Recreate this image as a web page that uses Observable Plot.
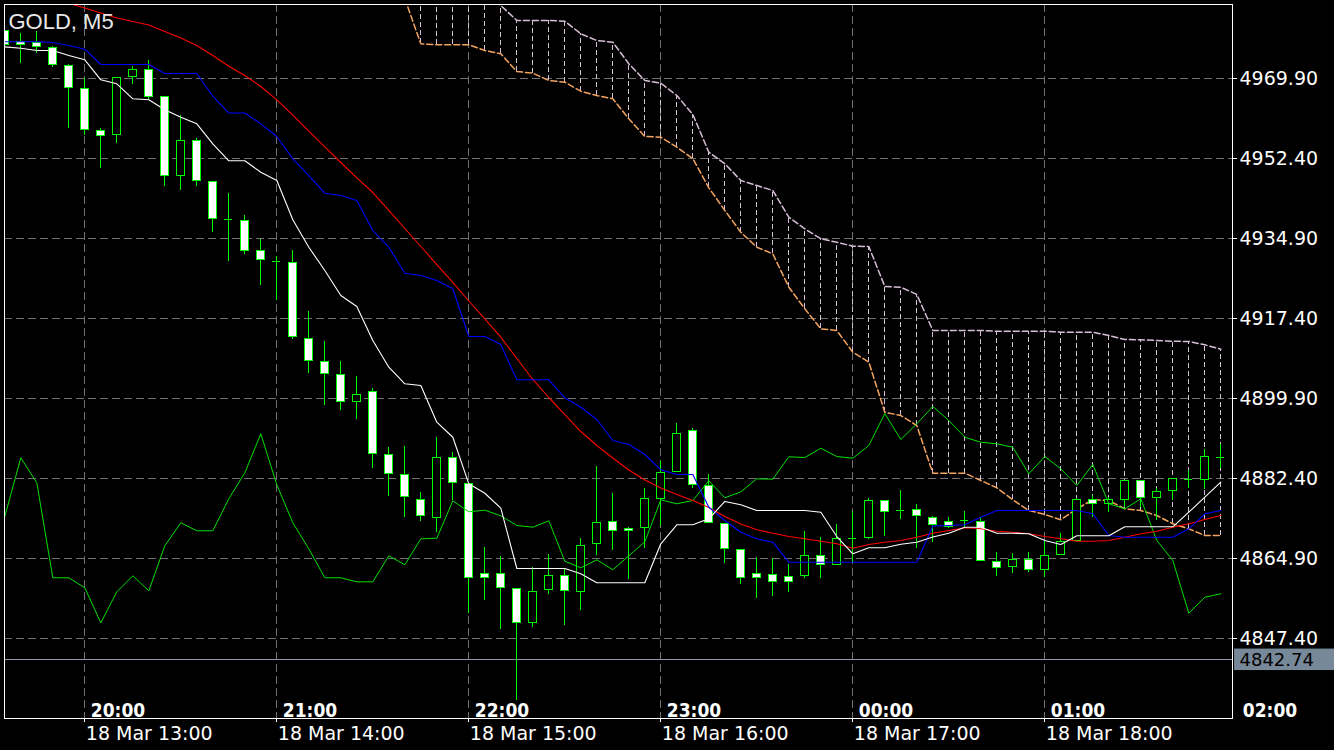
<!DOCTYPE html>
<html>
<head>
<meta charset="utf-8">
<script src="https://cdn.jsdelivr.net/npm/d3@7"></script>
<script src="https://cdn.jsdelivr.net/npm/@observablehq/plot@0.6"></script>
<style>
html, body { margin: 0; padding: 0; background: #000; overflow: hidden; }
</style>
</head>
<body>
<div id="chart"></div>
<script>
// ---------- chart data ----------
const symbolTitle = "GOLD, M5";

const open = [
  4980.40, 4977.78, 4977.71, 4976.62, 4972.68, 4967.65, 4958.46, 4957.58, 4970.27, 4971.80,
  4965.81, 4948.62, 4956.27, 4947.30, 4938.99, 4938.77, 4932.06, 4929.93, 4929.58, 4912.96,
  4907.84, 4905.08, 4899.18, 4901.28, 4887.50, 4883.12, 4877.65, 4873.80, 4886.93, 4881.24,
  4861.55, 4861.47, 4858.27, 4850.83, 4857.97, 4861.12, 4857.53, 4868.12, 4872.99, 4871.46,
  4871.62, 4877.87, 4883.78, 4892.83, 4880.80, 4872.49, 4866.80, 4861.55, 4861.33, 4860.90,
  4861.03, 4865.49, 4863.52, 4869.34, 4869.34, 4877.52, 4875.47, 4875.55, 4873.80, 4872.84,
  4873.15, 4872.93, 4864.09, 4863.00, 4864.53, 4862.43, 4865.56, 4868.77, 4877.74, 4876.87,
  4877.74, 4881.90, 4878.18, 4879.71, 4882.25, 4882.12, 4886.99
];
const high = [
  4980.62, 4979.81, 4980.12, 4976.90, 4972.96, 4969.90, 4958.90, 4970.12, 4972.53, 4973.84,
  4965.95, 4961.81, 4956.84, 4947.30, 4944.68, 4939.93, 4934.62, 4930.96, 4932.28, 4918.93,
  4912.37, 4907.99, 4904.71, 4902.02, 4889.25, 4889.47, 4879.34, 4891.43, 4888.02, 4881.30,
  4867.31, 4865.34, 4858.30, 4863.00, 4865.78, 4862.65, 4869.34, 4885.03, 4879.18, 4871.75,
  4880.21, 4886.18, 4894.50, 4893.27, 4883.21, 4872.55, 4866.85, 4865.18, 4864.97, 4863.59,
  4870.81, 4869.43, 4872.34, 4875.25, 4877.96, 4877.55, 4879.78, 4876.71, 4874.15, 4873.93,
  4875.12, 4873.80, 4866.28, 4865.93, 4866.15, 4868.84, 4870.30, 4878.03, 4878.68, 4878.18,
  4882.00, 4881.95, 4880.28, 4882.33, 4884.15, 4888.68, 4889.84
];
const low = [
  4976.90, 4973.25, 4975.43, 4972.24, 4958.90, 4957.43, 4950.28, 4955.75, 4968.52, 4965.09,
  4946.34, 4945.40, 4946.34, 4936.28, 4929.93, 4931.40, 4924.62, 4921.34, 4912.74, 4905.30,
  4898.37, 4897.28, 4895.37, 4884.52, 4878.53, 4873.93, 4873.06, 4870.65, 4877.59, 4852.93,
  4855.71, 4849.37, 4833.84, 4849.74, 4857.03, 4850.24, 4853.53, 4865.56, 4866.65, 4860.24,
  4867.15, 4871.90, 4883.78, 4880.15, 4872.49, 4863.74, 4859.15, 4856.08, 4856.59, 4857.53,
  4860.46, 4860.59, 4863.52, 4863.74, 4868.99, 4869.71, 4873.37, 4867.02, 4868.47, 4871.46,
  4871.75, 4864.18, 4861.03, 4861.68, 4861.77, 4860.81, 4865.56, 4868.77, 4873.93, 4875.03,
  4876.12, 4876.12, 4873.21, 4877.59, 4880.15, 4879.93, 4884.52
];
const close = [
  4977.27, 4977.27, 4976.83, 4972.90, 4967.87, 4958.68, 4957.37, 4970.05, 4971.80, 4965.90,
  4948.68, 4956.27, 4947.52, 4939.21, 4938.99, 4932.12, 4930.24, 4929.93, 4913.40, 4908.15,
  4905.30, 4899.18, 4900.71, 4887.80, 4883.43, 4878.46, 4874.09, 4886.93, 4881.46, 4860.68,
  4860.68, 4858.49, 4850.83, 4857.62, 4861.12, 4857.83, 4867.68, 4872.71, 4870.96, 4870.96,
  4877.96, 4883.65, 4892.18, 4881.02, 4872.71, 4867.02, 4860.68, 4860.68, 4859.80, 4859.80,
  4865.49, 4863.52, 4869.21, 4869.34, 4877.52, 4875.12, 4875.47, 4874.24, 4872.12, 4871.75,
  4873.15, 4864.31, 4862.87, 4864.62, 4862.43, 4865.49, 4868.55, 4877.74, 4876.87, 4877.59,
  4881.90, 4878.18, 4879.49, 4882.33, 4882.25, 4887.15, 4886.99
];

// Tenkan-sen (white), Kijun-sen (blue), moving average (red), Chikou span (green)
const tenkan = [
  4976.83, 4976.53, 4976.03, 4976.03, 4974.93, 4973.99, 4969.62, 4968.74, 4965.46, 4965.24,
  4963.05, 4961.43, 4959.99, 4955.62, 4951.90, 4951.90, 4949.40, 4947.59, 4938.99, 4933.00,
  4927.90, 4922.43, 4920.03, 4912.59, 4906.75, 4903.12, 4902.74, 4894.72, 4891.43, 4881.24,
  4879.18, 4875.90, 4862.71, 4862.71, 4862.71, 4862.71, 4861.55, 4859.58, 4859.58, 4859.58,
  4859.58, 4868.12, 4872.27, 4872.27, 4873.58, 4877.37, 4876.65, 4875.40, 4875.40, 4875.40,
  4875.40, 4875.03, 4869.71, 4865.93, 4867.24, 4867.24, 4868.03, 4868.47, 4869.60, 4870.43,
  4871.75, 4871.75, 4870.43, 4870.43, 4870.30, 4868.84, 4867.96, 4869.87, 4869.87, 4869.87,
  4871.83, 4871.83, 4871.83, 4871.83, 4875.03, 4878.31, 4881.59
];
const kijun = [
  4977.93, 4977.93, 4977.93, 4977.78, 4977.12, 4976.31, 4972.96, 4972.96, 4972.96, 4972.96,
  4970.99, 4970.99, 4970.99, 4966.03, 4962.35, 4962.35, 4959.99, 4957.21, 4952.33, 4948.68,
  4944.81, 4944.31, 4943.21, 4936.65, 4933.00, 4927.31, 4926.81, 4925.71, 4923.90, 4913.46,
  4913.46, 4911.71, 4903.99, 4903.99, 4903.99, 4900.05, 4898.00, 4895.31, 4890.71, 4889.84,
  4887.65, 4884.30, 4883.28, 4883.28, 4876.12, 4873.21, 4870.65, 4869.21, 4868.47, 4864.09,
  4864.09, 4864.09, 4864.09, 4864.09, 4864.09, 4864.09, 4864.09, 4864.09, 4872.01, 4872.12,
  4872.27, 4873.93, 4875.40, 4875.40, 4875.40, 4875.40, 4875.40, 4875.40, 4874.68, 4869.93,
  4869.56, 4869.56, 4869.56, 4869.56, 4871.40, 4874.68, 4875.40
];
const movingAverage = [
  4990.24, 4989.26, 4988.28, 4987.29, 4986.31, 4985.32, 4984.23, 4983.13, 4982.37, 4981.60,
  4980.18, 4978.76, 4977.12, 4974.93, 4972.59, 4970.56, 4968.15, 4965.24, 4961.87, 4958.37,
  4954.96, 4951.53, 4948.18, 4944.96, 4941.03, 4937.09, 4933.15, 4929.21, 4925.28, 4921.23,
  4917.33, 4913.31, 4908.65, 4904.06, 4900.12, 4896.40, 4892.68, 4889.62, 4886.88, 4884.26,
  4882.07, 4880.32, 4878.90, 4877.59, 4876.06, 4874.09, 4872.45, 4871.18, 4870.43, 4869.71,
  4869.21, 4868.68, 4868.12, 4867.15, 4867.96, 4868.47, 4868.84, 4869.56, 4870.43, 4871.03,
  4871.62, 4871.40, 4870.87, 4870.65, 4870.30, 4869.71, 4869.21, 4868.68, 4868.68, 4868.84,
  4869.56, 4870.30, 4870.87, 4871.75, 4872.49, 4873.43, 4874.31
];
const chikou = [
  4874.09, 4886.93, 4881.46, 4860.68, 4860.68, 4858.49, 4850.83, 4857.62, 4861.12, 4857.83,
  4867.68, 4872.71, 4870.96, 4870.96, 4877.96, 4883.65, 4892.18, 4881.02, 4872.71, 4867.02,
  4860.68, 4860.68, 4859.80, 4859.80, 4865.49, 4863.52, 4869.21, 4869.34, 4877.52, 4875.12,
  4875.47, 4874.24, 4872.12, 4871.75, 4873.15, 4864.31, 4862.87, 4864.62, 4862.43, 4865.49,
  4868.55, 4877.74, 4876.87, 4877.59, 4881.90, 4878.18, 4879.49, 4882.33, 4882.25, 4887.15,
  4886.99, 4889.03, 4887.21, 4886.84, 4889.62, 4896.62, 4890.93, 4894.37, 4898.15, 4895.09,
  4891.43, 4890.34, 4889.99, 4889.25, 4883.43, 4887.21, 4884.52, 4880.87, 4885.46, 4876.87,
  4875.77, 4877.96, 4868.84, 4864.46, 4852.93, 4856.43, 4857.18
];

// Ichimoku cloud, starting at bar 25
const cloudStart = 25;
const spanUpper = [
  4995.71, 4994.62, 4993.53, 4991.78, 4990.03, 4988.06, 4985.87, 4982.59, 4982.59, 4982.59,
  4982.43, 4979.68, 4978.21, 4977.84, 4973.12, 4969.46, 4968.87, 4966.18, 4962.03, 4953.78,
  4951.24, 4947.59, 4946.49, 4945.40, 4939.56, 4937.02, 4934.83, 4934.09, 4933.22, 4933.15,
  4924.40, 4924.25, 4922.65, 4914.78, 4914.78, 4914.78, 4914.78, 4914.62, 4914.62, 4914.62,
  4914.62, 4914.40, 4914.40, 4914.40, 4913.68, 4912.81, 4912.74, 4912.59, 4912.43, 4912.37,
  4911.65, 4910.68
];
const spanLower = [
  4987.40, 4977.49, 4977.27, 4977.27, 4977.27, 4976.03, 4975.30, 4971.43, 4971.06, 4969.46,
  4969.09, 4967.12, 4966.18, 4965.46, 4961.08, 4957.21, 4957.06, 4954.87, 4952.40, 4945.99,
  4941.03, 4936.28, 4933.00, 4931.55, 4924.25, 4919.52, 4915.15, 4914.78, 4910.03, 4907.84,
  4896.90, 4896.18, 4893.99, 4883.56, 4883.56, 4883.56, 4881.96, 4880.37, 4877.74, 4875.40,
  4874.53, 4873.37, 4875.77, 4877.74, 4877.59, 4875.77, 4875.40, 4874.31, 4872.49, 4871.40,
  4869.93, 4869.93
];

// axes
const priceTicks = [4847.40, 4864.90, 4882.40, 4899.90, 4917.40, 4934.90, 4952.40, 4969.90];
const bidPrice = 4842.74;
const hourTickBars = [5, 17, 29, 41, 53, 65, 77];
const hourLabels = ["20:00", "21:00", "22:00", "23:00", "00:00", "01:00", "02:00"];
const dateLabels = ["18 Mar 13:00", "18 Mar 14:00", "18 Mar 15:00", "18 Mar 16:00", "18 Mar 17:00", "18 Mar 18:00"];
const barWindow = [-0.02, 76.73];
const priceWindow = [4829.90, 4986.09];

// ---------- build ----------
const bars = d3.range(open.length).map(i => ({i, open: open[i], high: high[i], low: low[i], close: close[i]}));
const bodies = bars.filter(d => d.open !== d.close);
const dojis = bars.filter(d => d.open === d.close);
const cloud = spanUpper.map((u, k) => ({i: cloudStart + k, upper: u, lower: spanLower[k]}));
const series = arr => arr.map((v, i) => ({i, v}));
const bodyHalf = 0.24;
const gridColor = "#707070";
const lime = "#00ff00";
const labelFont = "'DejaVu Sans', sans-serif";

const chart = Plot.plot({
  width: 1334,
  height: 750,
  marginLeft: 4,
  marginTop: 4,
  marginRight: 102,
  marginBottom: 32,
  style: {background: "#000", color: "#fff", fontFamily: labelFont},
  x: {type: "linear", domain: barWindow, axis: null},
  y: {type: "linear", domain: priceWindow, axis: null},
  marks: [
    // grid
    Plot.ruleY(priceTicks, {y: d => d, stroke: gridColor, strokeDasharray: "8,4", shapeRendering: "crispEdges"}),
    Plot.ruleX(hourTickBars.slice(0, 6), {x: d => d, stroke: gridColor, strokeDasharray: "8,4", shapeRendering: "crispEdges"}),
    // bid line
    Plot.ruleY([bidPrice], {y: d => d, stroke: "#8d95a5", shapeRendering: "crispEdges"}),
    // cloud
    Plot.ruleX(cloud, {x: "i", y1: "lower", y2: "upper", stroke: "#d8bfd8", strokeDasharray: "5,3", clip: true, shapeRendering: "crispEdges"}),
    Plot.line(cloud, {x: "i", y: "upper", stroke: "#d8bfd8", strokeDasharray: "6,3", clip: true}),
    Plot.line(cloud, {x: "i", y: "lower", stroke: "#f4a460", strokeDasharray: "6,3", clip: true}),
    // candles
    Plot.ruleX(bars, {x: "i", y1: "low", y2: "high", stroke: lime, clip: true, shapeRendering: "crispEdges"}),
    Plot.rect(bodies, {
      x1: d => d.i - bodyHalf, x2: d => d.i + bodyHalf,
      y1: "open", y2: "close",
      fill: d => d.close < d.open ? "#ffffff" : "#000000",
      stroke: lime, clip: true, shapeRendering: "crispEdges"
    }),
    Plot.ruleY(dojis, {y: "open", x1: d => d.i - bodyHalf, x2: d => d.i + bodyHalf, stroke: lime, clip: true, shapeRendering: "crispEdges"}),
    // indicator lines
    Plot.line(series(chikou), {x: "i", y: "v", stroke: "#00e000", strokeWidth: 1, clip: true}),
    Plot.line(series(movingAverage), {x: "i", y: "v", stroke: "#ff0000", strokeWidth: 1.1, clip: true}),
    Plot.line(series(kijun), {x: "i", y: "v", stroke: "#0000ff", strokeWidth: 1.1, clip: true}),
    Plot.line(series(tenkan), {x: "i", y: "v", stroke: "#ffffff", strokeWidth: 1.1, clip: true}),
    // frame
    Plot.frame({stroke: "#ffffff", shapeRendering: "crispEdges"}),
    // title
    Plot.text([symbolTitle], {
      frameAnchor: "top-left", text: d => d, textAnchor: "start", lineAnchor: "top",
      dx: 4, dy: 9, fontSize: 22, fill: "#e8e8e8", fontFamily: "'Liberation Sans', Arial, sans-serif"
    }),
    // price axis
    Plot.ruleY(priceTicks, {y: d => d, x1: () => barWindow[1], x2: () => barWindow[1] + 0.33, stroke: "#fff", shapeRendering: "crispEdges"}),
    Plot.text(priceTicks, {
      y: d => d, text: d => d.toFixed(2), frameAnchor: "right", textAnchor: "start",
      dx: 7, fontSize: 19, fill: "#ffffff", fontFamily: labelFont
    }),
    // bid label
    Plot.rect([bidPrice], {
      x1: () => barWindow[1] + 0.13, x2: () => barWindow[1] + 6.5,
      y1: d => d - 2.35, y2: d => d + 2.35, fill: "#778899"
    }),
    Plot.text([bidPrice], {
      y: d => d, text: d => d.toFixed(2), frameAnchor: "right", textAnchor: "start",
      dx: 7, fontSize: 18, fill: "#000000", fontFamily: labelFont
    }),
    // time axis
    Plot.ruleX(hourTickBars.slice(0, 6), {x: d => d, y1: () => priceWindow[0], y2: () => priceWindow[0] - 0.9, stroke: "#fff", shapeRendering: "crispEdges"}),
    Plot.text(hourTickBars, {
      x: d => d, text: (d, i) => hourLabels[i], frameAnchor: "bottom", lineAnchor: "bottom",
      textAnchor: "start", dx: 6, dy: -2, fontSize: 19, fontWeight: "bold", fill: "#ffffff",
      fontFamily: "'DejaVu Sans Condensed', 'Liberation Sans Narrow', sans-serif"
    }),
    Plot.text(hourTickBars.slice(0, 6), {
      x: d => d, text: (d, i) => dateLabels[i], frameAnchor: "bottom", lineAnchor: "top",
      textAnchor: "start", dx: 1, dy: 8, fontSize: 19, fill: "#ffffff", fontFamily: labelFont
    })
  ]
});

document.getElementById("chart").append(chart);
</script>
</body>
</html>
